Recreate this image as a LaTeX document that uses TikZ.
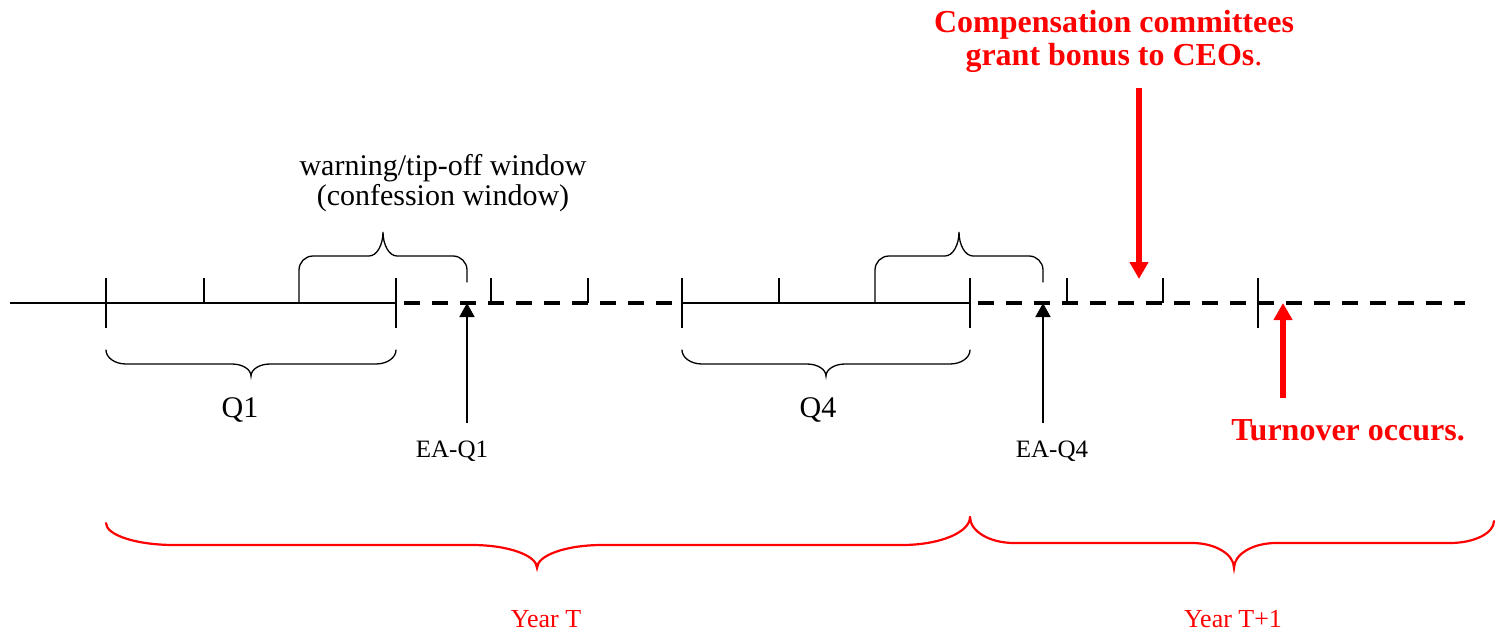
\documentclass[tikz,border=0pt]{standalone}
\usepackage{fontspec}
\setmainfont{Liberation Serif}
\usetikzlibrary{arrows.meta}
\definecolor{markred}{RGB}{255,0,0}

% Brace opening upwards, tip pointing down.
% #1 x-left, #2 x-right, #3 x-tip, #4 y-left end, #5 y-right end,
% #6 y of the flat part, #7 y of the tip, #8 end radius, #9 tip radius
\newcommand\dnbrace[9]{%
  (#1,#4) .. controls (#1,{#4+0.552*(#6-#4)}) and ({#1+0.448*#8},#6) .. ({#1+#8},#6)
  -- ({#3-#9},#6) .. controls ({#3-0.448*#9},#6) and (#3,{#6+0.448*(#7-#6)}) .. (#3,#7)
  .. controls (#3,{#6+0.448*(#7-#6)}) and ({#3+0.448*#9},#6) .. ({#3+#9},#6)
  -- ({#2-#8},#6) .. controls ({#2-0.448*#8},#6) and (#2,{#5+0.552*(#6-#5)}) .. (#2,#5)}

% Brace with the tip pointing up and long legs.
% #1 x-left, #2 x-right, #3 y-left foot, #4 y-right foot,
% #5 y of the flat part, #6 y of the tip, #7 end radius, #8 tip radius
\newcommand\upbrace[8]{%
  (#1,#3) -- (#1,{#5+#7}) .. controls (#1,{#5+0.448*#7}) and ({#1+0.448*#7},#5) .. ({#1+#7},#5)
  -- ({(#1+#2)/2-#8},#5) .. controls ({(#1+#2)/2-0.448*#8},#5) and ({(#1+#2)/2},{#5-0.448*(#5-#6)}) .. ({(#1+#2)/2},#6)
  .. controls ({(#1+#2)/2},{#5-0.448*(#5-#6)}) and ({(#1+#2)/2+0.448*#8},#5) .. ({(#1+#2)/2+#8},#5)
  -- ({#2-#7},#5) .. controls ({#2-0.448*#7},#5) and (#2,{#5+0.448*#7}) .. (#2,{#5+#7}) -- (#2,#4)}

\tikzset{
  solidaxis/.style={line width=1.6pt},
  dashaxis/.style={line width=4pt, dash pattern=on 16pt off 12pt, dash phase=-8pt},
  tickline/.style={line width=1.3pt},
  blackbrace/.style={line width=1.3pt, line cap=round},
  redbrace/.style={line width=2.2pt, draw=markred, line cap=round},
  blackarrow/.style={line width=1.5pt, -{Triangle[width=15pt,length=14pt]}},
  redarrow/.style={line width=6pt, draw=markred, -{Triangle[width=18pt,length=17pt]}},
  quarter/.style={font=\fontsize{30}{34}\selectfont, inner sep=0pt, anchor=base},
  ealabel/.style={font=\fontsize{25}{29}\selectfont, inner sep=0pt, anchor=base},
  yearlabel/.style={font=\fontsize{26}{30}\selectfont, text=markred, inner sep=0pt, anchor=base},
  event/.style={font=\fontsize{32}{33}\selectfont\bfseries, text=markred, inner sep=0pt, align=center}
}

\begin{document}
\begin{tikzpicture}[x=1pt, y=-1pt]
\useasboundingbox (0,0) rectangle (1496,634);

% time axis
\coordinate (start) at (10,303);
\coordinate (q1end) at (396,303);
\coordinate (q4start) at (682,303);
\coordinate (yearend) at (970,303);
\coordinate (finish) at (1465,303);
\draw[solidaxis] (start) -- (q1end);
\draw[dashaxis] (q1end) -- (q4start);
\draw[solidaxis] (q4start) -- (yearend);
\draw[dashaxis] (yearend) -- (finish);

% quarter boundaries (full ticks) and month marks (upper half ticks)
\foreach \x in {106,396,682,970,1258}
  \draw[tickline] (\x,278) -- (\x,328);
\foreach \x in {204,491,588,779,1067,1163}
  \draw[tickline] (\x,278) -- (\x,303);

% warning / tip-off windows
\draw[blackbrace] \upbrace{299}{467}{303}{282}{256}{232}{14}{14};
\draw[blackbrace] \upbrace{875}{1043}{303}{282}{256}{232}{14}{14};
\node[font=\fontsize{30}{30}\selectfont, align=center, inner sep=0pt] (window) at (443,183.5)
  {warning/tip-off window\\(confession window)};

% quarters
\draw[blackbrace] \dnbrace{106}{396}{251}{350}{350}{364}{376}{20}{19};
\draw[blackbrace] \dnbrace{682}{970}{826}{350}{350}{364}{376}{20}{19};
\node[quarter] (q1) at (240,417) {Q1};
\node[quarter] (q4) at (818,417) {Q4};

% earnings announcements
\node[ealabel] (ea1) at (452,457) {EA-Q1};
\node[ealabel] (ea4) at (1052,457) {EA-Q4};
\coordinate (ea1foot) at (467,423);
\coordinate (ea1tip) at (467,303);
\coordinate (ea4foot) at (1043,423);
\coordinate (ea4tip) at (1043,303);
\draw[blackarrow] (ea1foot) -- (ea1tip);
\draw[blackarrow] (ea4foot) -- (ea4tip);

% bonus grant and turnover events
\node[event] (bonus) at (1114,41)
  {Compensation committees\\grant bonus to CEOs{\mdseries.}};
\node[event, anchor=base] (turnover) at (1348,440) {Turnover occurs.};
\coordinate (bonusfoot) at (1139,88);
\coordinate (bonustip) at (1139,279);
\coordinate (turnfoot) at (1283,398);
\coordinate (turntip) at (1283,303);
\draw[redarrow] (bonusfoot) -- (bonustip);
\draw[redarrow] (turnfoot) -- (turntip);

% fiscal years
\draw[redbrace] \dnbrace{106}{970}{537}{523}{517}{545}{568}{68}{65};
\draw[redbrace] \dnbrace{970}{1494}{1234}{517}{521}{543}{568}{44}{42};
\node[yearlabel] (yearT) at (546,627) {Year T};
\node[yearlabel] (yearT1) at (1233,627) {Year T+1};
\end{tikzpicture}
\end{document}
